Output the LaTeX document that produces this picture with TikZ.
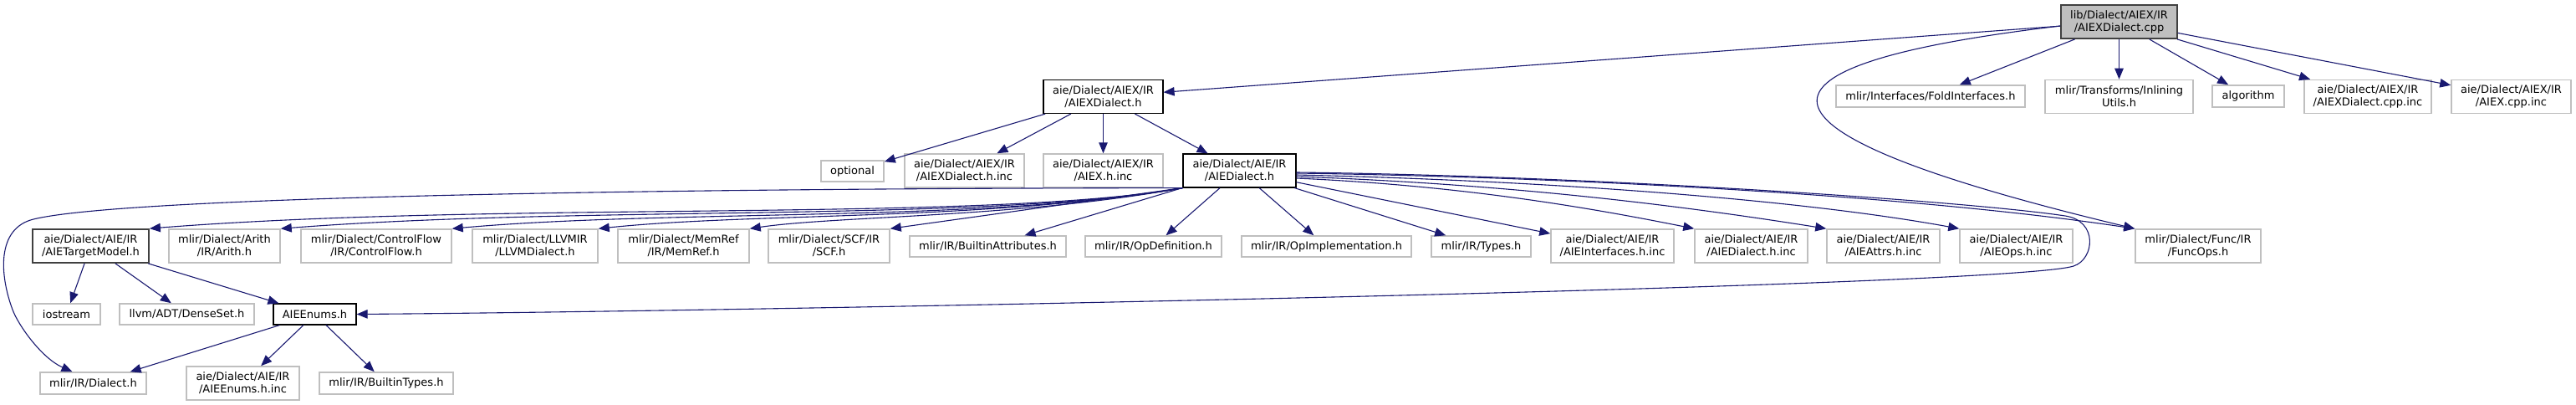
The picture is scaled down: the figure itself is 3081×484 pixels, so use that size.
\documentclass[tikz,border=0pt]{standalone}
\usepackage{fontspec}
\setmainfont{DejaVu Sans}
\usetikzlibrary{arrows.meta}
\definecolor{edgeblue}{HTML}{191970}
\definecolor{boxgray}{HTML}{BFBFBF}
\definecolor{darkline}{HTML}{404040}
\tikzset{
  file/.style={rectangle, inner sep=0pt, align=center, font=\fontsize{13}{15}\selectfont},
  boxsize/.style 2 args={minimum width=#1pt, minimum height=#2pt},
  extfile/.style={file, draw=boxgray, line width=1.5pt},
  docfile/.style={file, draw=black, line width=1.2pt},
  partfile/.style={file, draw=darkline, line width=1.8pt},
  rootfile/.style={file, draw=darkline, fill=boxgray, line width=1.8pt},
  dep/.style={draw=edgeblue, line width=1.1pt, -{Triangle[length=13pt,width=10.5pt]}}
}
\begin{document}
\begin{tikzpicture}[x=1pt,y=-1pt]
  \useasboundingbox (0,0) rectangle (3081,484);

  \node[rootfile, boxsize={139}{40}] (root) at (2534.5,26) {lib/Dialect/AIEX/IR\\/AIEXDialect.cpp};

  \node[docfile, boxsize={143}{40}] (aiexd) at (1319.5,115.5) {aie/Dialect/AIEX/IR\\/AIEXDialect.h};
  \node[extfile, boxsize={226}{26}] (fold) at (2309,115) {mlir/Interfaces/FoldInterfaces.h};
  \node[extfile, boxsize={177}{40}] (inline) at (2534.5,115.5) {mlir/Transforms/Inlining\\Utils.h};
  \node[extfile, boxsize={86}{26}] (algo) at (2689,115) {algorithm};
  \node[extfile, boxsize={152}{40}] (aiexcppinc) at (2832,115.5) {aie/Dialect/AIEX/IR\\/AIEXDialect.cpp.inc};
  \node[extfile, boxsize={143}{40}] (aiexcpp) at (3003.5,115.5) {aie/Dialect/AIEX/IR\\/AIEX.cpp.inc};

  \node[extfile, boxsize={75}{25}] (opt) at (1019.5,204.5) {optional};
  \node[extfile, boxsize={143}{40}] (aiexdinc) at (1153.5,204) {aie/Dialect/AIEX/IR\\/AIEXDialect.h.inc};
  \node[extfile, boxsize={143}{40}] (aiexhinc) at (1319.5,204) {aie/Dialect/AIEX/IR\\/AIEX.h.inc};
  \node[docfile, boxsize={135}{40}] (aied) at (1482.5,204) {aie/Dialect/AIE/IR\\/AIEDialect.h};

  \node[partfile, boxsize={139}{40}] (tm) at (108.5,294) {aie/Dialect/AIE/IR\\/AIETargetModel.h};
  \node[extfile, boxsize={133}{40}] (arith) at (268.5,294) {mlir/Dialect/Arith\\/IR/Arith.h};
  \node[extfile, boxsize={180}{40}] (cf) at (450,294) {mlir/Dialect/ControlFlow\\/IR/ControlFlow.h};
  \node[extfile, boxsize={150}{40}] (llvm) at (640,294) {mlir/Dialect/LLVMIR\\/LLVMDialect.h};
  \node[extfile, boxsize={157}{40}] (memref) at (817.5,294) {mlir/Dialect/MemRef\\/IR/MemRef.h};
  \node[extfile, boxsize={145}{40}] (scf) at (991.5,294) {mlir/Dialect/SCF/IR\\/SCF.h};
  \node[extfile, boxsize={187}{25}] (battr) at (1181.5,294.5) {mlir/IR/BuiltinAttributes.h};
  \node[extfile, boxsize={163}{25}] (opdef) at (1379.5,294.5) {mlir/IR/OpDefinition.h};
  \node[extfile, boxsize={203}{25}] (opimpl) at (1586.5,294.5) {mlir/IR/OpImplementation.h};
  \node[extfile, boxsize={119}{25}] (types) at (1771.5,294.5) {mlir/IR/Types.h};
  \node[extfile, boxsize={147}{40}] (ifaceinc) at (1928.5,294) {aie/Dialect/AIE/IR\\/AIEInterfaces.h.inc};
  \node[extfile, boxsize={135}{40}] (aiedinc) at (2094.5,294) {aie/Dialect/AIE/IR\\/AIEDialect.h.inc};
  \node[extfile, boxsize={135}{40}] (attrsinc) at (2252.5,294) {aie/Dialect/AIE/IR\\/AIEAttrs.h.inc};
  \node[extfile, boxsize={135}{40}] (opsinc) at (2411.5,294) {aie/Dialect/AIE/IR\\/AIEOps.h.inc};
  \node[extfile, boxsize={150}{40}] (func) at (2629,294) {mlir/Dialect/Func/IR\\/FuncOps.h};

  \node[extfile, boxsize={81}{25}] (iostr) at (79.5,375.5) {iostream};
  \node[extfile, boxsize={161}{25}] (dense) at (223.5,375.5) {llvm/ADT/DenseSet.h};
  \node[docfile, boxsize={99}{25}] (enums) at (376.5,375.5) {AIEEnums.h};

  \node[extfile, boxsize={127}{26}] (dial) at (111.5,458) {mlir/IR/Dialect.h};
  \node[extfile, boxsize={135}{40}] (enumsinc) at (290.5,458) {aie/Dialect/AIE/IR\\/AIEEnums.h.inc};
  \node[extfile, boxsize={160}{26}] (btypes) at (462,458) {mlir/IR/BuiltinTypes.h};

  \draw[dep] (root) -- (aiexd);
  \draw[dep] (root) -- (fold);
  \draw[dep] (root) -- (inline);
  \draw[dep] (root) -- (algo);
  \draw[dep] (root) -- (aiexcppinc);
  \draw[dep] (root) -- (aiexcpp);
  \draw[dep] ([yshift=-5pt]root.west) .. controls (2050,80) and (2080,160) .. (func.north west);

  \draw[dep] (aiexd) -- (opt);
  \draw[dep] (aiexd) -- (aiexdinc);
  \draw[dep] (aiexd) -- (aiexhinc);
  \draw[dep] (aiexd) -- (aied);

  \draw[dep] (aied.south west) .. controls (1180,266) and (600,240) .. (tm.north east);
  \draw[dep] (aied.south west) .. controls (1180,266) and (700,245) .. (arith.north east);
  \draw[dep] (aied.south west) .. controls (1180,266) and (800,250) .. (cf.north east);
  \draw[dep] (aied.south west) .. controls (1180,264) and (900,254) .. (llvm.north east);
  \draw[dep] (aied.south west) .. controls (1220,260) and (1000,258) .. (memref.north east);
  \draw[dep] (aied.south west) -- (scf.north east);
  \draw[dep] (aied) -- (battr);
  \draw[dep] (aied) -- (opdef);
  \draw[dep] (aied) -- (opimpl);
  \draw[dep] (aied) -- (types);
  \draw[dep] (aied) -- (ifaceinc);
  \draw[dep] ([yshift=-9pt]aied.east) .. controls (1750,222) and (1900,248) .. (aiedinc.north west);
  \draw[dep] ([yshift=-7pt]aied.east) .. controls (1800,220) and (2000,244) .. (attrsinc.north west);
  \draw[dep] ([yshift=-5pt]aied.east) .. controls (1850,216) and (2150,238) .. (opsinc.north west);
  \draw[dep] ([yshift=-3pt]aied.east) .. controls (1900,212) and (2300,235) .. (func.north west);
  \draw[dep] ([yshift=-2pt]aied.east) .. controls (1900,210) and (2350,240) .. (2470,258)
    .. controls (2510,264) and (2505,310) .. (2480,318)
    .. controls (2400,343) and (900,372) .. (enums.east);
  \draw[dep] (aied.south west) .. controls (800,225) and (150,235) .. (40,262)
    .. controls (-5,273) and (0,330) .. (15,370)
    .. controls (22,389) and (50,428) .. ([xshift=-25pt]dial.north);

  \draw[dep] (tm) -- (iostr);
  \draw[dep] (tm) -- (dense);
  \draw[dep] (tm) -- (enums);

  \draw[dep] (enums) -- (dial);
  \draw[dep] (enums) -- (enumsinc);
  \draw[dep] (enums) -- (btypes);
\end{tikzpicture}
\end{document}
